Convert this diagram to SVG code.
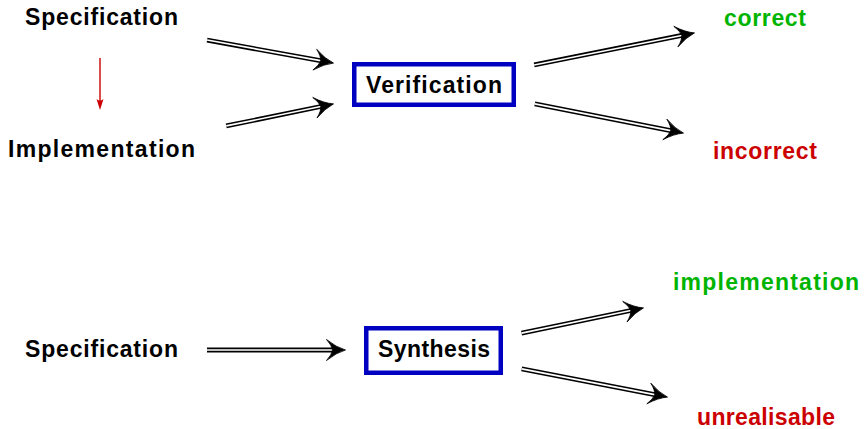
<svg xmlns="http://www.w3.org/2000/svg" width="864" height="429" viewBox="0 0 864 429">
  <style>
    text { font-family: "Liberation Sans", Arial, sans-serif; font-weight: bold; font-size: 23px; fill: #000; }
    .ok { fill: #00b400; }
    .bad { fill: #cc0000; }
    .box { fill: #fff; stroke: #0000c0; stroke-width: 4.5; }
    .rail-outer { stroke: #000; stroke-width: 4.8; fill: none; }
    .rail-inner { stroke: #fff; stroke-width: 1.7; fill: none; }
    .head { fill: #000; stroke: #000; stroke-width: 0.8; stroke-linejoin: round; }
    .red { stroke: #cc0000; stroke-width: 1.4; fill: none; }
  </style>
  <defs>
    <!-- dart-shaped head with concave barbs, tip at the origin pointing +x -->
    <path id="chev" class="head" d="M 0.5,0 Q -8.5,-2.5 -18.5,-10.5 Q -13,-4.5 -12.5,0 Q -13,4.5 -18.5,10.5 Q -8.5,2.5 0.5,0 Z"/>
  </defs>

  <rect width="864" height="429" fill="#fff"/>

  <g id="connectors">
    <!-- spec -> impl (red) -->
    <g id="spec-impl">
      <line class="red" x1="100" y1="58" x2="100" y2="106"/>
      <path d="M 96.5,99 L 100,110 L 103.5,99 Q 100,102 96.5,99 Z" fill="#cc0000"/>
    </g>
    <!-- spec -> verification -->
    <g transform="translate(333,63) rotate(10.34)">
      <line class="rail-outer" x1="-128" y1="0" x2="-10" y2="0"/>
      <line class="rail-inner" x1="-128" y1="0" x2="-10" y2="0"/>
      <use href="#chev"/>
    </g>
    <!-- impl -> verification -->
    <g transform="translate(333,104) rotate(-11.62)">
      <line class="rail-outer" x1="-109" y1="0" x2="-10" y2="0"/>
      <line class="rail-inner" x1="-109" y1="0" x2="-10" y2="0"/>
      <use href="#chev"/>
    </g>
    <!-- verification -> correct -->
    <g transform="translate(694,33) rotate(-11.31)">
      <line class="rail-outer" x1="-163" y1="0" x2="-10" y2="0"/>
      <line class="rail-inner" x1="-163" y1="0" x2="-10" y2="0"/>
      <use href="#chev"/>
    </g>
    <!-- verification -> incorrect -->
    <g transform="translate(683,133) rotate(11.09)">
      <line class="rail-outer" x1="-151" y1="0" x2="-10" y2="0"/>
      <line class="rail-inner" x1="-151" y1="0" x2="-10" y2="0"/>
      <use href="#chev"/>
    </g>
    <!-- spec -> synthesis -->
    <g transform="translate(345,350)">
      <line class="rail-outer" x1="-138" y1="0" x2="-10" y2="0"/>
      <line class="rail-inner" x1="-138" y1="0" x2="-10" y2="0"/>
      <use href="#chev"/>
    </g>
    <!-- synthesis -> implementation -->
    <g transform="translate(643,308) rotate(-11.67)">
      <line class="rail-outer" x1="-124" y1="0" x2="-10" y2="0"/>
      <line class="rail-inner" x1="-124" y1="0" x2="-10" y2="0"/>
      <use href="#chev"/>
    </g>
    <!-- synthesis -> unrealisable -->
    <g transform="translate(667,397) rotate(10.93)">
      <line class="rail-outer" x1="-148" y1="0" x2="-10" y2="0"/>
      <line class="rail-inner" x1="-148" y1="0" x2="-10" y2="0"/>
      <use href="#chev"/>
    </g>
  </g>

  <g id="spec-top"><text x="25" y="25" textLength="153">Specification</text></g>
  <g id="impl"><text x="8" y="157" textLength="187">Implementation</text></g>
  <g id="verification">
    <rect class="box" x="354.25" y="64.25" width="159.5" height="40.5"/>
    <text x="366" y="93" textLength="136">Verification</text>
  </g>
  <g id="correct"><text class="ok" x="724" y="26" textLength="82">correct</text></g>
  <g id="incorrect"><text class="bad" x="713" y="159" textLength="104">incorrect</text></g>

  <g id="spec-bottom"><text x="25" y="357" textLength="153">Specification</text></g>
  <g id="synthesis">
    <rect class="box" x="366.25" y="328.25" width="134.5" height="44.5"/>
    <text x="378" y="357" textLength="112">Synthesis</text>
  </g>
  <g id="implementation"><text class="ok" x="673" y="290" textLength="186">implementation</text></g>
  <g id="unrealisable"><text class="bad" x="697" y="425" textLength="138">unrealisable</text></g>
</svg>
